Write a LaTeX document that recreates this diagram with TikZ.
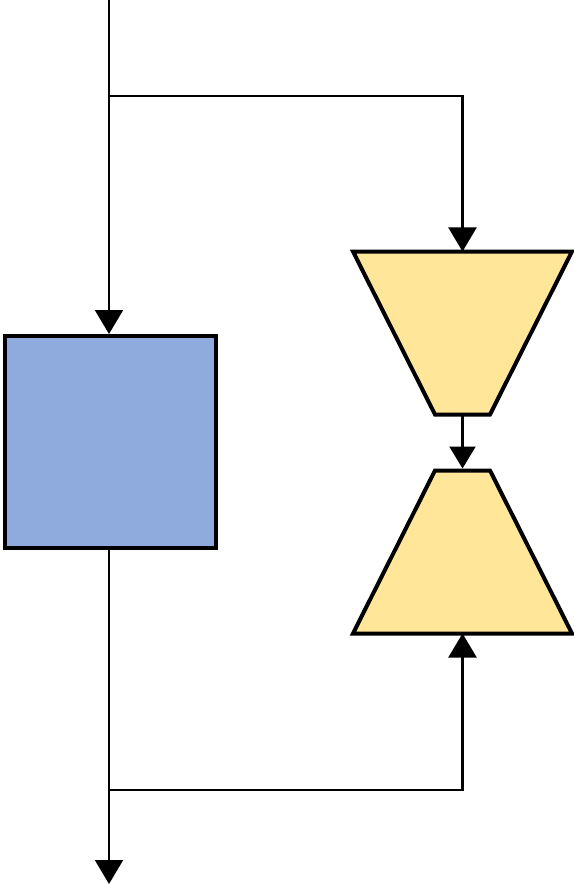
\documentclass[tikz,border=0pt]{standalone}
\usepackage{xcolor}
\usepackage{tikz}
\usetikzlibrary{shapes.geometric, arrows.meta, positioning, calc}

\definecolor{blockblue}{HTML}{8FAADC}
\definecolor{blockgold}{HTML}{FFE699}

\begin{document}
\begin{tikzpicture}[x=1pt, y=-1pt,
    conn/.style={line width=2.2pt, -{Triangle[width=28pt,length=24pt]}},
    plain/.style={line width=2.2pt},
    trapbox/.style={rectangle, inner sep=0pt, outer sep=2pt, minimum width=215pt, minimum height=159pt},
    trapline/.style={draw, line width=4pt, fill=blockgold}]
    \useasboundingbox (0,0) rectangle (573,885);

    % LEFT: MAIN PATH
    \node (Block) [rectangle, draw, line width=4pt, fill=blockblue, minimum width=211pt, minimum height=212pt] at (110.5,442) {};
    \coordinate (In) at (109,0);
    \coordinate (SplitTop) at (109,96);
    \coordinate (Out) at (109,884);
    \coordinate (SplitBot) at (109,790);
    \draw[conn] (In) -- (Block.north -| In);
    \draw[plain] (Block.south -| In) -- (SplitBot);
    \draw[conn] (SplitBot) -- (Out);

    % RIGHT: TRAPEZIA
    \node (Narrow) [trapbox] at (462.5,333) {};
    \node (Widen) [trapbox] at (462.5,552) {};
    \path[trapline] (Narrow.north west) -- (Narrow.north east) -- ($(Narrow.south east)+(-82,0)$) -- ($(Narrow.south west)+(82,0)$) -- cycle;
    \path[trapline] (Widen.south west) -- (Widen.south east) -- ($(Widen.north east)+(-82,0)$) -- ($(Widen.north west)+(82,0)$) -- cycle;
    \draw[conn] (SplitTop) -| (Narrow.north);
    \draw[line width=2.2pt, -{Triangle[width=26pt,length=22pt]}] (Narrow.south) -- ($(Widen.north)+(0,-2)$);
    \draw[conn] (SplitBot) -| (Widen.south);
\end{tikzpicture}
\end{document}
